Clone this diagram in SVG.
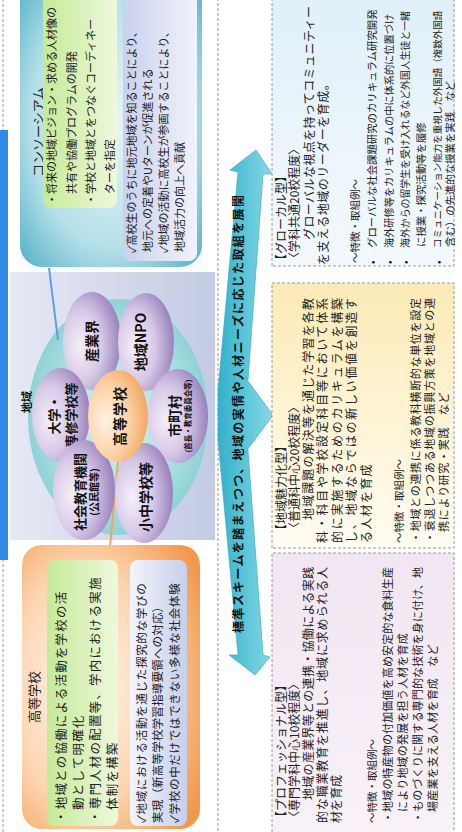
<svg xmlns="http://www.w3.org/2000/svg" width="462" height="832" viewBox="0 0 462 832">
<defs>
<style>
.t{font-family:"Noto Sans CJK JP","Noto Sans",sans-serif;fill:#222}
.b{font-weight:bold;fill:#111}
.f12{font-size:12px}
.f11{font-size:11px}
.f10{font-size:10.4px}
.dash{fill:none;stroke:#9a9a9a;stroke-width:1;stroke-dasharray:3 2}
.ell{fill:url(#gPurple)}
</style>
<radialGradient id="gCons" cx="0.5" cy="0.5" r="0.72"><stop offset="0" stop-color="#e8f6f9"/><stop offset="0.6" stop-color="#b6e0e9"/><stop offset="1" stop-color="#4cadc4"/></radialGradient>
<linearGradient id="gGreen" x1="0" y1="0" x2="0" y2="1"><stop offset="0" stop-color="#c6ea98"/><stop offset="1" stop-color="#eef8dc"/></linearGradient>
<linearGradient id="gLavA" x1="0" y1="0" x2="0" y2="1"><stop offset="0" stop-color="#c9d1ee"/><stop offset="1" stop-color="#f1f3fa"/></linearGradient>
<linearGradient id="gLavB" x1="0" y1="0" x2="0" y2="1"><stop offset="0" stop-color="#f3f5fb"/><stop offset="1" stop-color="#c6cfec"/></linearGradient>
<radialGradient id="gHS" cx="0.5" cy="0.35" r="0.75"><stop offset="0" stop-color="#fff6ee"/><stop offset="0.55" stop-color="#fcd6b2"/><stop offset="1" stop-color="#f2984c"/></radialGradient>
<linearGradient id="gRegion" x1="0" y1="0" x2="0" y2="1"><stop offset="0" stop-color="#e6e9f4"/><stop offset="1" stop-color="#c3cbe4"/></linearGradient>
<radialGradient id="gTeal" cx="0.5" cy="0.5" r="0.5"><stop offset="0" stop-color="#d4f0f1"/><stop offset="0.7" stop-color="#ace0e2"/><stop offset="1" stop-color="#8fd2d6"/></radialGradient>
<radialGradient id="gPurple" cx="0.45" cy="0.3" r="0.75"><stop offset="0" stop-color="#f5f0fa"/><stop offset="0.5" stop-color="#d5c7e6"/><stop offset="1" stop-color="#9076b6"/></radialGradient>
<radialGradient id="gOrange" cx="0.45" cy="0.3" r="0.75"><stop offset="0" stop-color="#fff2e4"/><stop offset="0.5" stop-color="#fcd3a8"/><stop offset="1" stop-color="#f2a058"/></radialGradient>
<linearGradient id="gArrow" gradientUnits="userSpaceOnUse" x1="0" y1="218" x2="0" y2="273"><stop offset="0" stop-color="#33b1ca"/><stop offset="1" stop-color="#86d9e6"/></linearGradient>
<linearGradient id="gGlocal" x1="0" y1="0" x2="1" y2="0"><stop offset="0" stop-color="#f3f9fd"/><stop offset="1" stop-color="#dfeff8"/></linearGradient>
<linearGradient id="gRegional" x1="0" y1="0" x2="1" y2="0"><stop offset="0" stop-color="#fffcf2"/><stop offset="1" stop-color="#fcebb6"/></linearGradient>
<linearGradient id="gProf" x1="0" y1="0" x2="1" y2="0"><stop offset="0" stop-color="#f8f2f8"/><stop offset="1" stop-color="#f1e6f1"/></linearGradient>
</defs>
<rect x="0" y="0" width="462" height="832" fill="#ffffff"/>
<g transform="translate(0,832) rotate(-90)">
  <!-- left panel frame and title tab -->
  <rect class="dash" x="-5" y="3" width="842" height="215"/>
  <rect x="272" y="-20" width="430" height="28" fill="#2e8ae6"/>

  <!-- region panel -->
  <g id="region">
    <rect x="292" y="10" width="268" height="205" fill="url(#gRegion)"/>
    <ellipse cx="415" cy="118" rx="118" ry="90" fill="url(#gTeal)"/>
    <text class="t b" x="430" y="31" font-size="11" text-anchor="middle">地域</text>
  </g>

  <!-- connectors -->
  <g id="connectors">
    <line x1="564" y1="49" x2="492" y2="58" stroke="#5c9fe6" stroke-width="2"/>
    <line x1="370" y1="118" x2="285" y2="110" stroke="#f4a25c" stroke-width="2"/>
    <polygon points="682,256 658,272 658,263 452,248 455,245 417,273 379,245 382,248 177,263 175,270 157,255 177,229 177,238 392,218 442,218 660,238 662,230" fill="url(#gArrow)" stroke="#2ea7bf" stroke-width="0.6"/>
    <text class="t b" x="199" y="243" font-size="12" textLength="438" lengthAdjust="spacing">標準スキームを踏まえつつ、地域の実情や人材ニーズに応じた取組を展開</text>
  </g>

  <g id="sangyokai"><ellipse class="ell" cx="491" cy="92" rx="49" ry="29"/><text class="t b" x="491" y="97" font-size="14" text-anchor="middle">産業界</text></g>
  <g id="npo"><ellipse class="ell" cx="490" cy="146" rx="49" ry="28"/><text class="t b" x="490" y="146" font-size="14" text-anchor="middle">地域NPO</text></g>
  <g id="daigaku"><ellipse class="ell" cx="417" cy="61" rx="47" ry="29"/><text class="t b" x="417" y="59" font-size="13" text-anchor="middle">大学・</text><text class="t b" x="417" y="76" font-size="13" text-anchor="middle">専修学校等</text></g>
  <g id="shichoson"><ellipse class="ell" cx="416" cy="178" rx="47" ry="30"/><text class="t b" x="416" y="180" font-size="14" text-anchor="middle">市町村</text><text class="t b" x="416" y="191" font-size="7.5" text-anchor="middle">(首長・教育委員会等)</text></g>
  <g id="shakai"><ellipse class="ell" cx="342" cy="84" rx="50" ry="31"/><text class="t b" x="340" y="85" font-size="13" text-anchor="middle">社会教育機関</text><text class="t b" x="340" y="98" font-size="10" text-anchor="middle">(公民館等)</text></g>
  <g id="shochu"><ellipse class="ell" cx="339" cy="144" rx="50" ry="29"/><text class="t b" x="335" y="151" font-size="14" text-anchor="middle">小中学校等</text></g>
  <g id="koko-node"><ellipse cx="416" cy="118" rx="46" ry="30" fill="url(#gOrange)"/><text class="t b" x="416" y="125" font-size="14" text-anchor="middle" letter-spacing="1">高等学校</text></g>

  <!-- consortium -->
  <g id="consortium">
    <rect x="565" y="20" width="290" height="182" rx="22" fill="url(#gCons)"/>
    <text class="t" x="700" y="43" font-size="13" text-anchor="middle">コンソーシアム</text>
    <rect x="624" y="43" width="230" height="74" rx="8" fill="url(#gGreen)"/>
    <text class="t f11" x="627" y="56">・将来の地域ビジョン・求める人材像の</text>
    <text class="t f11" x="638" y="76">共有や協働プログラムの開発</text>
    <text class="t f11" x="627" y="95">・学校と地域とをつなぐコーディネー</text>
    <text class="t f11" x="638" y="114">ターを指定</text>
    <rect x="571" y="123" width="280" height="74" rx="8" fill="url(#gLavA)"/>
    <text class="t f11" x="579" y="136">✓高校生のうちに地元地域を知ることにより、</text>
    <text class="t f11" x="580" y="152">地元への定着やUターンが促進される</text>
    <text class="t f11" x="579" y="168">✓地域の活動に高校生が参画することにより、</text>
    <text class="t f11" x="580" y="184">地域活力の向上へ貢献</text>
  </g>

  <!-- high school box -->
  <g id="koko-box">
    <rect x="3" y="22" width="284" height="178" rx="20" fill="url(#gHS)"/>
    <text class="t" x="135" y="39" font-size="13" text-anchor="middle">高等学校</text>
    <rect x="6" y="47" width="266" height="71" rx="8" fill="url(#gGreen)"/>
    <text class="t" x="9" y="66" font-size="12.5" letter-spacing="1.2">・地域との協働による活動を学校の活</text>
    <text class="t" x="22" y="83" font-size="12.5" letter-spacing="1.2">動として明確化</text>
    <text class="t" x="9" y="100" font-size="12.5" letter-spacing="1.2">・専門人材の配置等、学内における実施</text>
    <text class="t" x="22" y="117" font-size="12.5" letter-spacing="1.2">体制を構築</text>
    <rect x="6" y="130" width="266" height="57" rx="8" fill="url(#gLavB)"/>
    <text class="t" x="9" y="146" font-size="11.5" letter-spacing="0.7">✓地域における活動を通じた探究的な学びの</text>
    <text class="t" x="9" y="162" font-size="11.5" letter-spacing="0.2">実現（新高等学校学習指導要領への対応）</text>
    <text class="t" x="9" y="179" font-size="11.5" letter-spacing="0.7">✓学校の中だけではできない多様な社会体験</text>
  </g>

  <!-- glocal -->
  <g id="glocal">
    <rect x="566" y="272" width="290" height="182" fill="url(#gGlocal)"/>
    <rect class="dash" x="566" y="272" width="290" height="182"/>
    <text class="t f12" x="566" y="286">【グローカル型】</text>
    <text class="t f12" x="568" y="299">〈学科共通20校程度〉</text>
    <text class="t f12" x="592" y="314" textLength="234" lengthAdjust="spacing">グローバルな視点を持ってコミュニティー</text>
    <text class="t f12" x="567" y="328" letter-spacing="0.5">を支える地域のリーダーを育成。</text>
    <text class="t" x="569" y="359" font-size="10.5">～特徴・取組例～</text>
    <text class="t b" x="568" y="376" font-size="9">•</text>
    <text class="t b" x="568" y="393" font-size="9">•</text>
    <text class="t b" x="568" y="409" font-size="9">•</text>
    <text class="t b" x="568" y="442" font-size="9">•</text>
    <text class="t f10" x="584" y="376">グローバルな社会課題研究のカリキュラム研究開発</text>
    <text class="t" x="584" y="393" font-size="10.2">海外研修等をカリキュラムの中に体系的に位置づけ</text>
    <text class="t" x="584" y="409" font-size="9.9">海外からの留学生を受け入れるなど外国人生徒と一緒</text>
    <text class="t f10" x="585" y="425">に授業・探究活動等を履修</text>
    <text class="t" x="584" y="441" font-size="9.5">コミュニケーション能力を重視した外国語（複数外国語</text>
    <text class="t f10" x="585" y="454">含む）の先進的な授業を実践　など</text>
  </g>

  <!-- regional attraction -->
  <g id="regional">
    <rect x="284" y="272" width="265" height="182" fill="url(#gRegional)"/>
    <rect class="dash" x="284" y="272" width="265" height="182"/>
    <text class="t f12" x="296" y="286">【地域魅力化型】</text>
    <text class="t f12" x="298" y="299">〈普通科中心20校程度〉</text>
    <text class="t f12" x="312" y="313" textLength="222" lengthAdjust="spacing">地域課題の解決等を通じた学習を各教</text>
    <text class="t f12" x="289" y="327" textLength="245" lengthAdjust="spacing">科・科目や学校設定科目等において体系</text>
    <text class="t f12" x="289" y="342" textLength="245" lengthAdjust="spacing">的に実施するためのカリキュラムを構築</text>
    <text class="t f12" x="289" y="356" textLength="245" lengthAdjust="spacing">し、地域ならではの新しい価値を創造す</text>
    <text class="t f12" x="289" y="371" letter-spacing="1.3">る人材を育成</text>
    <text class="t" x="289" y="403" font-size="10.5">～特徴・取組例～</text>
    <text class="t f11" x="289" y="420" textLength="245" lengthAdjust="spacing">・地域との連携に係る教科横断的な単位を設定</text>
    <text class="t f11" x="289" y="434" textLength="245" lengthAdjust="spacing">・衰退しつつある地域の振興方策を地域との連</text>
    <text class="t f11" x="300" y="448" letter-spacing="0.7">携により研究・実践　など</text>
  </g>

  <!-- professional -->
  <g id="professional">
    <rect x="-10" y="272" width="289" height="182" fill="url(#gProf)"/>
    <rect class="dash" x="-10" y="272" width="289" height="182"/>
    <text class="t f12" x="9" y="286">【プロフェッショナル型】</text>
    <text class="t f12" x="9" y="299">〈専門学科中心10校程度〉</text>
    <text class="t f12" x="32" y="313" textLength="233" lengthAdjust="spacing">地域の産業界等との連携・協働による実践</text>
    <text class="t f12" x="9" y="327" textLength="256" lengthAdjust="spacing">的な職業教育を推進し、地域に求められる人</text>
    <text class="t f12" x="9" y="341">材を育成</text>
    <text class="t" x="9" y="376" font-size="10.5">～特徴・取組例～</text>
    <text class="t f11" x="9" y="392" textLength="256" lengthAdjust="spacing">・地域の特産物の付加価値を高め安定的な食料生産</text>
    <text class="t f11" x="20" y="407" letter-spacing="0.2">により地域の発展を担う人材を育成</text>
    <text class="t f11" x="9" y="422" textLength="256" lengthAdjust="spacing">・ものづくりに関する専門的な技術を身に付け、地</text>
    <text class="t f11" x="20" y="437" letter-spacing="0.2">場産業を支える人材を育成　など</text>
  </g>
</g>
</svg>
